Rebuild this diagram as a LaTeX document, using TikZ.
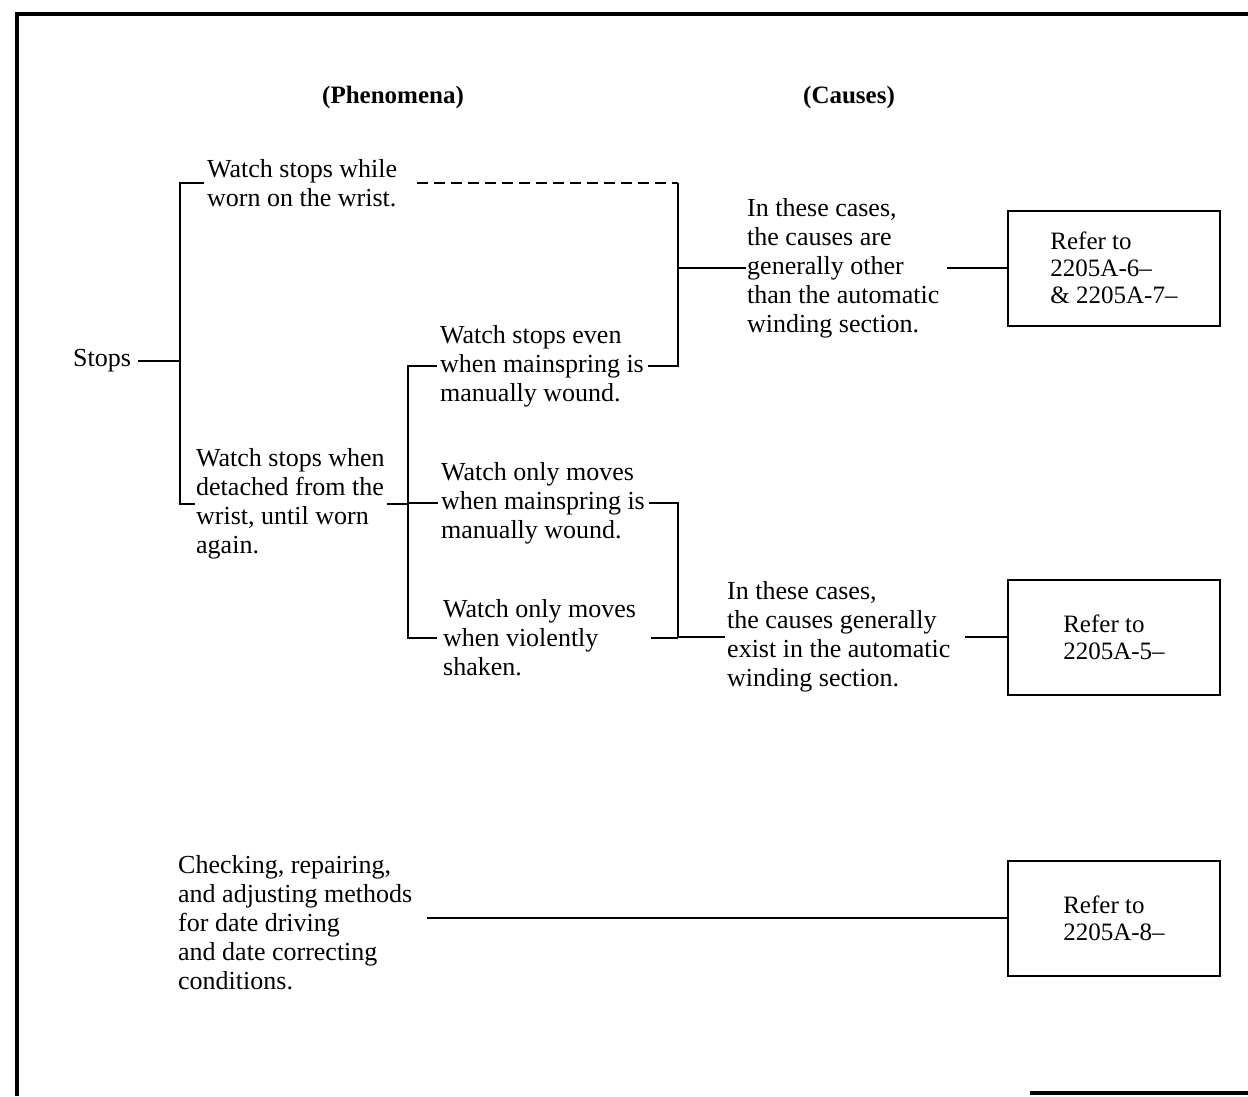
\documentclass[tikz,border=0pt]{standalone}
\usepackage{fontspec}
\setmainfont{Liberation Serif}
\usetikzlibrary{calc}
\begin{document}
\begin{tikzpicture}[x=1pt,y=-1pt,
  txt/.style={align=left, inner sep=0pt, anchor=west, font=\fontsize{26}{29}\selectfont},
  hdr/.style={inner sep=0pt, font=\fontsize{25}{29}\selectfont\bfseries},
  refbox/.style={draw, line width=2pt, minimum width=212pt, minimum height=115pt, inner sep=0pt, align=left, font=\fontsize{25}{27}\selectfont},
  conn/.style={line width=2pt},
  dashconn/.style={line width=2pt, dash pattern=on 11pt off 6pt},
  frame/.style={line width=3.5pt}]
\useasboundingbox (0,0) rectangle (1248,1096);
% frame
\draw[frame] (1248,14) -- (17,14) -- (17,1096);
\draw[frame] (1030,1093) -- (1248,1093);
% headers
\node[hdr] (hp) at (393,97) {(Phenomena)};
\node[hdr] (hc) at (849,97) {(Causes)};
% phenomena
\node[txt] (stops) at (73,361) {Stops};
\node[txt] (p1) at (207,183) {Watch stops while\\worn on the wrist.};
\node[txt] (p2) at (196,504) {Watch stops when\\detached from the\\wrist, until worn\\again.};
\node[txt] (q1) at (440,366) {Watch stops even\\when mainspring is\\manually wound.};
\node[txt] (q2) at (441,503) {Watch only moves\\when mainspring is\\manually wound.};
\node[txt] (q3) at (443,638) {Watch only moves\\when violently\\shaken.};
\node[txt] (ck) at (178,923) {Checking, repairing,\\and adjusting methods\\for date driving\\and date correcting\\conditions.};
% causes
\node[txt] (c1) at (747,268) {In these cases,\\the causes are\\generally other\\than the automatic\\winding section.};
\node[txt] (c2) at (727,637) {In these cases,\\the causes generally\\exist in the automatic\\winding section.};
% reference boxes
\node[refbox] (r1) at (1114,268) {Refer to\\2205A-6--\\\& 2205A-7--};
\node[refbox] (r2) at (1114,637) {Refer to\\2205A-5--};
\node[refbox] (r3) at (1114,918) {Refer to\\2205A-8--};
% bracket coordinates
\coordinate (b1top) at (180,183);
\coordinate (b1mid) at (180,361);
\coordinate (b1bot) at (180,504);
\coordinate (b2top) at (408,366);
\coordinate (b2bot) at (408,638);
\coordinate (b3top) at (678,183);
\coordinate (b3mid) at (678,268);
\coordinate (b3bot) at (678,366);
\coordinate (b4top) at (678,503);
\coordinate (b4bot) at (678,637);
% connectors
\draw[conn] ($(stops.east)+(7,0)$) -- (b1mid);
\draw[conn] ($(p1.west)+(-3,0)$) -- (b1top) -- (b1bot) -- ($(p2.west)+(-1,0)$);
\draw[conn] ($(p2.east)+(2,0)$) -- (p2.east -| b2top);
\draw[conn] ($(q1.west)+(-3,0)$) -- (b2top) -- (b2bot) -- ($(q3.west)+(-6,0)$);
\draw[conn] ($(q2.west)+(-3,0)$) -- (q2.west -| b2top);
\draw[dashconn] ($(p1.east)+(20,0)$) -- (b3top);
\draw[conn] (b3top) -- (b3bot) -- ($(q1.east)+(4,0)$);
\draw[conn] (b3mid) -- ($(c1.west)+(-1,0)$);
\draw[conn] ($(c1.east)+(8,0)$) -- (r1.west);
\draw[conn] ($(q2.east)+(4,0)$) -- (b4top) -- (b4bot) -- ($(c2.west)+(-2,0)$);
\draw[conn] (q3.east -| b4bot) -- ($(q3.east)+(15,0)$);
\draw[conn] (r2.west) -- ++(-42,0);
\draw[conn] (r3.west) -- ++(-580,0);
\end{tikzpicture}
\end{document}
